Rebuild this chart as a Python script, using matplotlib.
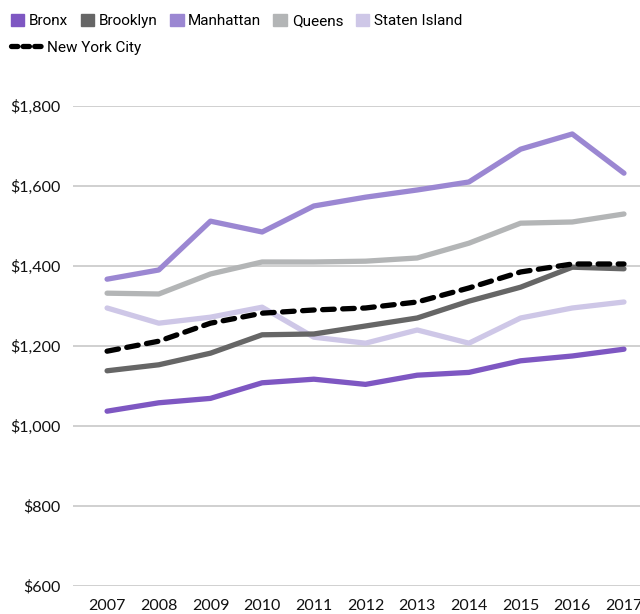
"""
Median rent by borough, New York City 2007-2017
"""

import matplotlib
matplotlib.use('Agg')
import matplotlib.pyplot as plt
from matplotlib.patches import Patch
from matplotlib.lines import Line2D
from matplotlib.ticker import FuncFormatter

years = list(range(2007, 2018))
bronx = [1037, 1058, 1069, 1108, 1117, 1104, 1127, 1134, 1163, 1175, 1192]
brooklyn = [1138, 1153, 1182, 1228, 1230, 1250, 1270, 1312, 1347, 1397, 1393]
manhattan = [1367, 1390, 1512, 1485, 1550, 1572, 1590, 1610, 1692, 1730, 1632]
queens = [1332, 1330, 1380, 1410, 1410, 1412, 1420, 1457, 1507, 1510, 1530]
staten = [1295, 1257, 1272, 1297, 1222, 1207, 1240, 1207, 1270, 1295, 1310]
nyc = [1187, 1212, 1257, 1282, 1290, 1295, 1310, 1345, 1385, 1405, 1405]
yticks = [600, 800, 1000, 1200, 1400, 1600, 1800]

c_bronx = '#7e57c2'
c_brooklyn = '#666666'
c_manhattan = '#9b87d2'
c_queens = '#b3b5b6'
c_staten = '#cec7e7'

plt.rcParams['font.family'] = ['Lato', 'DejaVu Sans']

fig = plt.figure(figsize=(6.4, 6.14), dpi=100)
ax = fig.add_axes([0.114, 0.0456, 0.886, 0.7818])

lw = 3.8
ax.plot(years, staten, color=c_staten, lw=lw, solid_capstyle='round', zorder=3)
ax.plot(years, queens, color=c_queens, lw=lw, solid_capstyle='round', zorder=3)
ax.plot(years, manhattan, color=c_manhattan, lw=lw, solid_capstyle='round', zorder=3)
ax.plot(years, brooklyn, color=c_brooklyn, lw=lw, solid_capstyle='round', zorder=3)
ax.plot(years, bronx, color=c_bronx, lw=lw, solid_capstyle='round', zorder=3)
ax.plot(years, nyc, color='black', lw=lw, dashes=(2.2, 1.6), dash_capstyle='round', zorder=4)

ax.set_xlim(2006.34, 2017.31)
ax.set_ylim(600, 1800)
ax.set_yticks(yticks)
ax.set_xticks(years)
ax.yaxis.set_major_formatter(FuncFormatter(lambda v, p: '${:,.0f}'.format(v)))
ax.grid(axis='y', color='#c8c8c8', lw=1.2, zorder=0)
ax.tick_params(axis='both', length=0, labelsize=11.5, colors='#111111')
ax.tick_params(axis='y', pad=9)
ax.tick_params(axis='x', pad=9)
for s in ax.spines.values():
    s.set_visible(False)

handles = [Patch(color=c_bronx, label='Bronx'),
           Patch(color=c_brooklyn, label='Brooklyn'),
           Patch(color=c_manhattan, label='Manhattan'),
           Patch(color=c_queens, label='Queens'),
           Patch(color=c_staten, label='Staten Island')]
leg1 = fig.legend(handles=handles, loc='upper left', bbox_to_anchor=(0.0, 0.995), ncol=5,
                  frameon=False, handlelength=0.9, handleheight=0.9,
                  handletextpad=0.3, columnspacing=0.8, borderaxespad=0.3,
                  prop={'family': 'Roboto', 'size': 11})
leg2 = fig.legend(handles=[Line2D([], [], color='black', lw=lw, dashes=(1.2, 1.0),
                                  dash_capstyle='round', label='New York City')],
                  loc='upper left', bbox_to_anchor=(0.0, 0.951), frameon=False,
                  handlelength=2.1, handletextpad=0.3, borderaxespad=0.3,
                  prop={'family': 'Roboto', 'size': 11})

fig.savefig('out.png', dpi=100)
